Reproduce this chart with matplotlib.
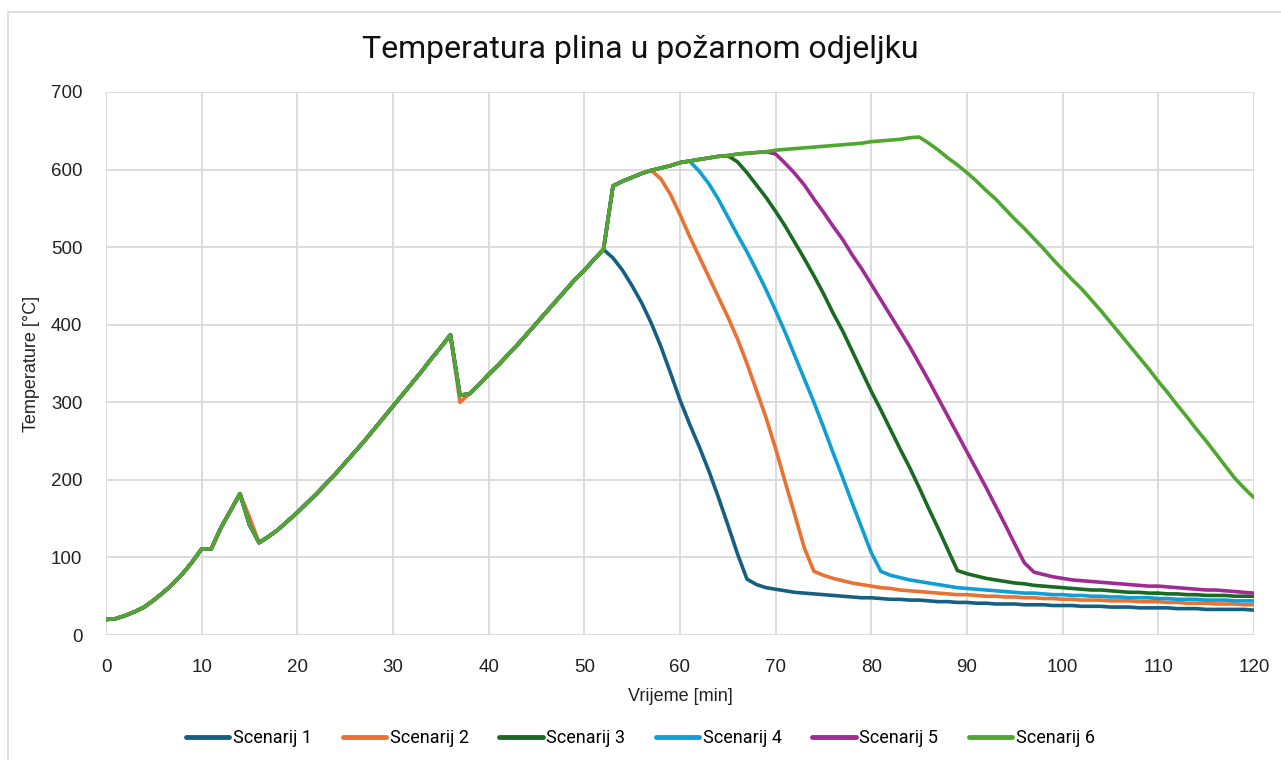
import numpy as np
import matplotlib
matplotlib.use("Agg")
import matplotlib.pyplot as plt
from matplotlib import font_manager
from matplotlib.patches import Rectangle

# ---------------- data ----------------
minutes = list(range(0, 121))

# common rise, minutes 0-52
rise = [20, 21, 25, 30, 36, 45, 55, 66, 79, 94, 111, 111, 138, 160, 182, 142, 119,
        127, 136, 147, 158, 170, 182, 195, 208, 222, 236, 250, 265, 280, 295, 310,
        325, 340, 356, 371, 387, 309, 311, 323, 336, 348, 361, 374, 388, 402, 416,
        430, 444, 458, 470, 484, 497]
# scenario 2 differs at these minutes
s2_rise_diff = {15: 152, 37: 300}

# common plateau (Scenario 6 envelope), minutes 53-85
plateau = [579, 585, 590, 595, 599, 602, 605, 609, 611, 613, 615, 617, 618, 620, 621,
           622, 623, 625, 626, 627, 628, 629, 630, 631, 632, 633, 634, 636, 637, 638,
           639, 641, 642]

s1_tail = [486, 470, 450, 428, 402, 372, 338, 303, 272, 243, 212, 178, 142, 105, 72,
           65, 61, 59, 57, 55, 54, 53, 52, 51, 50, 49, 48, 48, 47, 46, 46, 45, 45, 44,
           43, 43, 42, 42, 41, 41, 40, 40, 40, 39, 39, 39, 38, 38, 38, 37, 37, 37, 36,
           36, 36, 35, 35, 35, 35, 34, 34, 34, 33, 33, 33, 33, 33, 32]          # 53-120
s2_tail = [588, 568, 542, 514, 488, 462, 436, 410, 382, 350, 315, 280, 240, 197, 155,
           112, 82, 77, 73, 70, 67, 65, 63, 61, 60, 58, 57, 56, 55, 54, 53, 52, 52, 51,
           50, 50, 49, 49, 48, 48, 47, 47, 46, 46, 45, 45, 45, 44, 44, 44, 43, 43, 43,
           42, 42, 41, 41, 41, 40, 40, 40, 39, 39]                              # 58-120
s3_tail = [610, 596, 580, 564, 546, 527, 506, 485, 463, 440, 415, 392, 366, 340, 314,
           290, 265, 240, 216, 190, 163, 137, 110, 83, 79, 76, 73, 71, 69, 67, 66, 64,
           63, 62, 61, 60, 59, 58, 58, 57, 56, 55, 55, 54, 54, 53, 53, 52, 52, 51, 51,
           51, 50, 50, 50]                                                      # 66-120
s4_tail = [598, 582, 562, 539, 516, 494, 470, 445, 418, 390, 360, 330, 300, 268, 235,
           203, 170, 138, 106, 82, 77, 74, 71, 69, 67, 65, 63, 61, 60, 59, 58, 57, 56,
           55, 54, 54, 53, 52, 52, 51, 51, 50, 50, 49, 49, 48, 48, 48, 47, 47, 46, 46,
           46, 45, 45, 45, 44, 44, 44]                                          # 62-120
s5_tail = [620, 608, 595, 580, 562, 545, 527, 510, 490, 472, 452, 432, 412, 392, 372,
           350, 328, 305, 282, 259, 236, 213, 190, 166, 142, 117, 93, 81, 78, 75, 73,
           71, 70, 69, 68, 67, 66, 65, 64, 63, 63, 62, 61, 60, 59, 58, 58, 57, 56, 55,
           54]                                                                  # 70-120
s6_tail = [634, 625, 615, 606, 596, 585, 573, 562, 549, 536, 524, 511, 498, 484, 471,
           458, 446, 432, 418, 403, 388, 373, 358, 343, 327, 312, 296, 281, 265, 250,
           234, 218, 202, 189, 177]                                             # 86-120

labels = ["Scenarij 1", "Scenarij 2", "Scenarij 3", "Scenarij 4", "Scenarij 5", "Scenarij 6"]
colors = ["#156082", "#E97132", "#196B24", "#0F9ED5", "#A02B93", "#4EA72E"]

def build(last_common, tail, diff=None):
    r = list(rise)
    if diff:
        for k, v in diff.items():
            r[k] = v
    env = r + plateau
    return env[:last_common + 1] + tail

series = [
    build(52, s1_tail),
    build(57, s2_tail, s2_rise_diff),
    build(65, s3_tail),
    build(61, s4_tail),
    build(69, s5_tail),
    build(85, s6_tail),
]
for s in series:
    assert len(s) == len(minutes), len(s)

# ---------------- fonts ----------------
avail = {f.name for f in font_manager.fontManager.ttflist}
narrow = "Liberation Sans Narrow" if "Liberation Sans Narrow" in avail else "Roboto"
base = "Liberation Sans"

# ---------------- figure ----------------
fig = plt.figure(figsize=(12.81, 7.60), dpi=100)
ax = fig.add_axes([106 / 1281, 1 - 635 / 760, (1254 - 106) / 1281, (635 - 92) / 760])

grid_c = "#d9d9d9"
for s, lab, c in zip(series, labels, colors):
    ax.plot(minutes, s, color=c, lw=2.6, label=lab, solid_joinstyle="round",
            solid_capstyle="round", zorder=3)

ax.set_xlim(0, 120)
ax.set_ylim(0, 700)
ax.set_xticks(range(0, 121, 10))
ax.set_yticks(range(0, 701, 100))
ax.grid(True, color=grid_c, lw=1.3, zorder=0)
for sp in ax.spines.values():
    sp.set_visible(False)
ax.axhline(0, color=grid_c, lw=1.3, zorder=1)
ax.tick_params(length=0, labelsize=13.5, labelcolor="#222222")
ax.tick_params(axis="x", pad=17)
ax.tick_params(axis="y", pad=17)
for t in ax.get_xticklabels() + ax.get_yticklabels():
    t.set_fontfamily(base)

ax.set_xlabel("Vrijeme [min]", fontsize=13, family=base, color="#222222", labelpad=9)
ax.set_ylabel("Temperature [°C]", fontsize=13, family=base, color="#222222", labelpad=8)

fig.text(0.5, 1 - 50 / 760, "Temperatura plina u požarnom odjeljku", ha="center",
         va="center", fontsize=23, family=narrow, color="#111111")

leg = fig.legend(loc="center", bbox_to_anchor=(0.5, 1 - 738 / 760), ncol=6,
                 frameon=False, prop={"family": narrow, "size": 13},
                 handlelength=2.4, handletextpad=0.2, columnspacing=1.7)
for h in leg.get_lines():
    h.set_linewidth(3.5)

fig.patches.append(Rectangle((8 / 1281, -0.01), 1.0, 0.994 - 12 / 760 + 0.016,
                             transform=fig.transFigure, fill=False,
                             edgecolor=grid_c, lw=1.2))

fig.savefig("out.png", dpi=100)
